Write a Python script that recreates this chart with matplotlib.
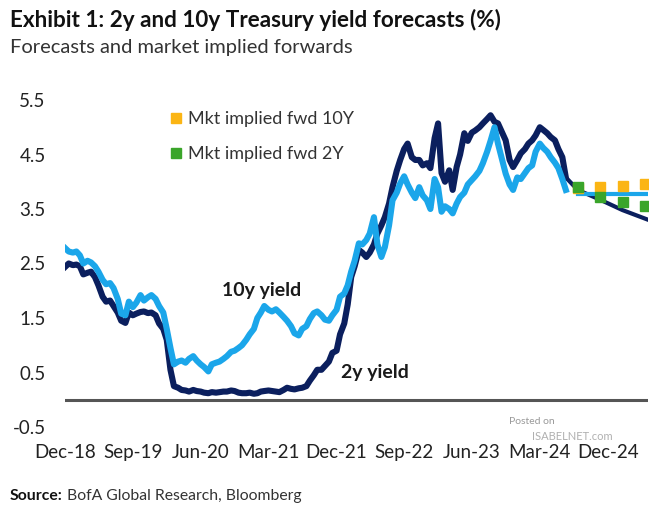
import matplotlib
matplotlib.use("Agg")
import matplotlib.pyplot as plt
import pandas as pd

plt.rcParams['font.family'] = ['Lato', 'DejaVu Sans']

# semi-monthly history (1st and 15th of each month), Jan-2019 .. Jul-2024
dates = pd.date_range('2019-01-01', '2024-07-15', freq='SMS')

ten_y = [
    2.78, 2.72, 2.70, 2.72, 2.65, 2.50, 2.55, 2.52, 2.45, 2.35, 2.20, 2.12,   # 2019 H1
    2.14, 2.05, 1.85, 1.58, 1.55, 1.80, 1.70, 1.78, 1.92, 1.82, 1.88, 1.92,   # 2019 H2
    1.85, 1.72, 1.60, 1.30, 0.95, 0.65, 0.70, 0.72, 0.68, 0.75, 0.80, 0.72,   # 2020 H1
    0.65, 0.60, 0.52, 0.65, 0.68, 0.70, 0.75, 0.80, 0.88, 0.90, 0.95, 1.00,   # 2020 H2
    1.10, 1.20, 1.30, 1.50, 1.60, 1.72, 1.65, 1.62, 1.66, 1.60, 1.52, 1.45,   # 2021 H1
    1.35, 1.22, 1.18, 1.30, 1.35, 1.48, 1.59, 1.62, 1.55, 1.47, 1.45, 1.55,   # 2021 H2
    1.65, 1.89, 1.95, 2.10, 2.35, 2.55, 2.87, 2.85, 2.93, 3.05, 3.35, 2.85,   # 2022 H1
    2.62, 2.80, 3.20, 3.66, 3.80, 3.97, 4.10, 3.95, 3.80, 3.70, 3.90, 3.75,   # 2022 H2
    3.66, 3.50, 4.05, 3.90, 3.45, 3.55, 3.50, 3.42, 3.60, 3.72, 3.80, 3.95,   # 2023 H1
    4.03, 4.10, 4.20, 4.34, 4.55, 4.75, 5.00, 4.70, 4.40, 4.15, 3.95, 3.85,   # 2023 H2
    4.08, 4.05, 4.16, 4.25, 4.30, 4.55, 4.70, 4.62, 4.55, 4.45, 4.35, 4.25,   # 2024 H1
    4.05, 3.85,                                                               # Jul-24
]

two_y = [
    2.44, 2.50, 2.47, 2.48, 2.45, 2.30, 2.33, 2.35, 2.25, 2.10, 1.89, 1.80,
    1.82, 1.72, 1.60, 1.45, 1.41, 1.60, 1.55, 1.58, 1.61, 1.62, 1.59, 1.60,
    1.55, 1.40, 1.30, 1.10, 0.55, 0.25, 0.22, 0.18, 0.17, 0.15, 0.18, 0.16,
    0.15, 0.13, 0.12, 0.14, 0.13, 0.14, 0.15, 0.15, 0.17, 0.16, 0.13, 0.12,
    0.12, 0.13, 0.11, 0.12, 0.15, 0.16, 0.17, 0.16, 0.15, 0.14, 0.18, 0.22,
    0.20, 0.19, 0.21, 0.22, 0.25, 0.35, 0.45, 0.55, 0.55, 0.62, 0.70, 0.86,
    0.90, 1.20, 1.40, 1.75, 2.25, 2.45, 2.75, 2.70, 2.62, 2.70, 2.85, 3.05,
    3.20, 3.35, 3.60, 3.90, 4.20, 4.40, 4.60, 4.70, 4.45, 4.40, 4.40, 4.30,
    4.34, 4.25, 4.80, 5.07, 4.16, 4.00, 4.21, 3.85, 4.27, 4.50, 4.89, 4.75,
    4.90, 4.94, 5.00, 5.07, 5.15, 5.22, 5.10, 5.07, 4.90, 4.76, 4.40, 4.27,
    4.40, 4.52, 4.60, 4.70, 4.76, 4.85, 5.00, 4.95, 4.89, 4.82, 4.76, 4.60,
    4.45, 4.08,
]

# forecasts
fcst_dates = pd.to_datetime(['2024-07-15', '2024-09-01', '2024-12-01', '2025-03-01', '2025-06-08'])
fcst_2y = [4.08, 3.85, 3.67, 3.48, 3.31]
fcst_10y = [3.85, 3.78, 3.78, 3.78, 3.78]

# market implied forwards
fwd_dates = pd.to_datetime(['2024-09-01', '2024-12-01', '2025-03-01', '2025-06-01'])
fwd_10y = [3.88, 3.90, 3.92, 3.96]
fwd_2y = [3.90, 3.72, 3.63, 3.55]

tick_dates = pd.to_datetime(['2018-12-31', '2019-09-30', '2020-06-30', '2021-03-31', '2021-12-31',
                             '2022-09-30', '2023-06-30', '2024-03-31', '2024-12-31'])
tick_labels = ['Dec-18', 'Sep-19', 'Jun-20', 'Mar-21', 'Dec-21', 'Sep-22', 'Jun-23', 'Mar-24', 'Dec-24']
y_ticks = [-0.5, 0.5, 1.5, 2.5, 3.5, 4.5, 5.5]

navy = '#0b1f5e'
light = '#1ba6ea'
orange = '#fbb514'
green = '#3aa52a'

fig = plt.figure(figsize=(6.7, 5.15), dpi=100)
ax = fig.add_axes([65 / 670, 1 - 427 / 515, 583 / 670, 327 / 515])

ax.axhline(0, color='#555555', lw=2.2, zorder=1)
ax.plot(dates, two_y, color=navy, lw=4.4, solid_joinstyle='round', zorder=3)
ax.plot(dates, ten_y, color=light, lw=4.4, solid_joinstyle='round', zorder=4)
ax.plot(fcst_dates, fcst_2y, color=navy, lw=3, zorder=3)
ax.plot(fcst_dates[1:], fcst_10y[1:], color=light, lw=3, zorder=4)
ax.plot(fwd_dates, fwd_10y, 's', color=orange, ms=7.5, ls='none', zorder=5, label='Mkt implied fwd 10Y')
ax.plot(fwd_dates, fwd_2y, 's', color=green, ms=7.5, ls='none', zorder=6, label='Mkt implied fwd 2Y')

ax.set_xlim(pd.Timestamp('2018-12-31'), pd.Timestamp('2025-06-12'))
ax.set_ylim(-0.5, 5.5)
ax.set_xticks(tick_dates)
ax.set_xticklabels(tick_labels)
ax.set_yticks(y_ticks)
ax.set_yticklabels([f'{v:.1f}' for v in y_ticks])
ax.tick_params(length=0, labelsize=13.5, colors='#222222')
ax.tick_params(axis='y', pad=14)
ax.tick_params(axis='x', pad=12)
for s in ax.spines.values():
    s.set_visible(False)

leg = ax.legend(loc='upper left', bbox_to_anchor=(170 / 670, 1 - 111 / 515), bbox_transform=fig.transFigure,
                frameon=False, fontsize=13, handlelength=0.7, handletextpad=0.3, labelspacing=1.05,
                borderpad=0, borderaxespad=0)
for t in leg.get_texts():
    t.set_color('#333333')

ax.text(pd.Timestamp('2021-03-05'), 2.0, '10y yield', fontsize=14, fontweight='bold', color='#1a1a1a',
        ha='center', va='center')
ax.text(pd.Timestamp('2022-06-05'), 0.5, '2y yield', fontsize=14, fontweight='bold', color='#1a1a1a',
        ha='center', va='center')

fig.text(10 / 670, 1 - 20 / 515, 'Exhibit 1: 2y and 10y Treasury yield forecasts (%)', fontsize=16.2,
         fontweight='bold', color='#111111', va='center', ha='left')
fig.text(10 / 670, 1 - 48 / 515, 'Forecasts and market implied forwards', fontsize=14.5,
         color='#333333', va='center', ha='left')

src = fig.text(10 / 670, 1 - 496 / 515, 'Source:', fontsize=11.3, fontweight='bold', color='#111111',
               va='center', ha='left')
ax.annotate(' BofA Global Research, Bloomberg', xy=(1, 0.5), xycoords=src, fontsize=11.3, color='#333333',
            va='center', ha='left', annotation_clip=False)

# watermark
fig.text(532 / 670, 1 - 422 / 515, 'Posted on', fontsize=7.5, color='#999999', ha='center', va='center')
fig.text(572 / 670, 1 - 436 / 515, 'ISABELNET.com', fontsize=8, color='#b0b0b0', ha='center', va='center')

fig.savefig('out.png', dpi=100)
